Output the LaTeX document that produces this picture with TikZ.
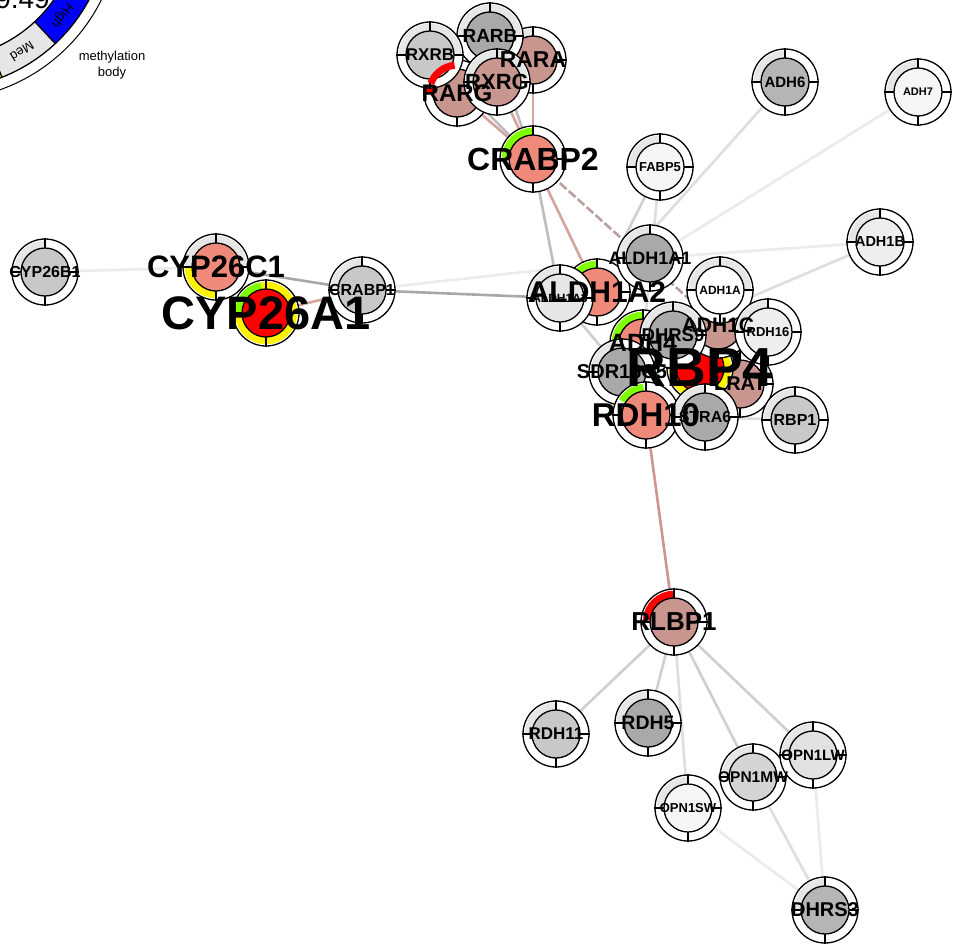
\documentclass[tikz,border=0pt]{standalone}
\usepackage{fontspec}
\setmainfont{Liberation Sans}
\usetikzlibrary{calc}
\definecolor{salm}{HTML}{EF8A7A}
\definecolor{rose}{HTML}{C8968F}
\definecolor{lg}{HTML}{E6E6E6}
\definecolor{grn}{HTML}{80FF00}
\definecolor{g1}{HTML}{A9A9A9}
\definecolor{g2}{HTML}{B5B5B5}
\definecolor{g3}{HTML}{C8C8C8}
\definecolor{g4}{HTML}{D4D4D4}
\definecolor{g5}{HTML}{E2E2E2}
\definecolor{g6}{HTML}{EEEEEE}
\definecolor{g7}{HTML}{F5F5F5}
\definecolor{epink}{HTML}{D6A39E}
\definecolor{epink2}{HTML}{CD9590}
\definecolor{ebrown}{HTML}{B9A19E}
\definecolor{eg1}{HTML}{A8A8A8}
\definecolor{eg2}{HTML}{BDBDBD}
\definecolor{eg3}{HTML}{CFCFCF}
\definecolor{eg4}{HTML}{DEDEDE}
\definecolor{eg5}{HTML}{EBEBEB}
\tikzset{
  edge/.style={line width=2.6pt},
  outl/.style={line width=1.3pt, draw=black},
}
\newcommand{\seg}[3]{\draw[#1, line width=7pt] ($(\cur)+(#2:27.8pt)$) arc[start angle=#2, end angle=#3, radius=27.8pt];}
\newcommand{\gnode}[3]{%
  \def\cur{#1}%
  \fill[white] (#1) circle (33pt);
  #3
  \draw[outl] (#1) circle (33pt);
  \draw[outl, fill=#2] (#1) circle (24pt);
  \foreach \a in {0,90,180,270}{\draw[outl] ($(#1)+(\a:24pt)$) -- ($(#1)+(\a:34pt)$);}
}
\newcommand{\lab}[3]{\node[font=\bfseries\fontsize{#2}{#2}\selectfont, inner sep=0pt] (#1-l) at (#1) {#3};}
\begin{document}
\begin{tikzpicture}[x=1pt,y=1pt]
\useasboundingbox (0,0) rectangle (956,-945);
\clip (0,0) rectangle (956,-945);
\fill[white] (0,0) rectangle (956,-945);

% ---------- legend fragment
\coordinate (leg) at (-60,80);
\draw[line width=1pt] (leg) circle (180pt);
\draw[blue, line width=30pt] ($(leg)+(-47:154pt)$) arc[start angle=-47, end angle=0, radius=154pt];
\draw[lg, line width=30pt] ($(leg)+(-68.5:154pt)$) arc[start angle=-68.5, end angle=-47, radius=154pt];
\draw[yellow, line width=30pt] ($(leg)+(-90:154pt)$) arc[start angle=-90, end angle=-68.5, radius=154pt];
\draw[outl] (leg) circle (139pt);
\draw[outl] (leg) circle (169pt);
\draw[outl] ($(leg)+(-47:139pt)$) -- ($(leg)+(-47:169pt)$);
\draw[outl] ($(leg)+(-68.5:139pt)$) -- ($(leg)+(-68.5:169pt)$);
\node[rotate=232, font=\fontsize{13}{13}\selectfont, inner sep=0pt] (legh) at ($(leg)+(-38:155pt)$) {High};
\node[rotate=212, font=\fontsize{13}{13}\selectfont, inner sep=0pt] (legm) at ($(leg)+(-58:155pt)$) {Med};
\node[anchor=base east, font=\fontsize{28}{28}\selectfont, inner sep=0pt] (legv) at (50,-8) {9.49};
\node[align=center, font=\fontsize{13}{15.5}\selectfont, inner sep=0pt] (legt) at (112,-65) {methylation\\body};

% ---------- coordinates
\coordinate (cyp26b1) at (45,-272);
\coordinate (cyp26c1) at (216,-267);
\coordinate (cyp26a1) at (266,-313);
\coordinate (crabp1) at (362,-290);
\coordinate (rxrb) at (430,-55);
\coordinate (rarb) at (490,-36);
\coordinate (rara) at (533,-60);
\coordinate (rxrg) at (497,-82);
\coordinate (rarg) at (457,-93);
\coordinate (crabp2) at (533,-159);
\coordinate (fabp5) at (660,-167);
\coordinate (adh6) at (785,-82);
\coordinate (adh7) at (918,-92);
\coordinate (adh1b) at (880,-242);
\coordinate (aldh1a1) at (650,-258);
\coordinate (aldh1a2) at (597,-292);
\coordinate (aldh1a3) at (560,-298);
\coordinate (adh1a) at (720,-290);
\coordinate (adh1c) at (718,-325);
\coordinate (rdh16) at (768,-332);
\coordinate (dhrs9) at (673,-335);
\coordinate (adh4) at (643,-343);
\coordinate (rbp4) at (700,-368);
\coordinate (lrat) at (740,-384);
\coordinate (sdr16c5) at (622,-372);
\coordinate (rdh10) at (646,-415);
\coordinate (stra6) at (705,-417);
\coordinate (rbp1) at (795,-420);
\coordinate (rlbp1) at (674,-622);
\coordinate (rdh11) at (556,-734);
\coordinate (rdh5) at (648,-723);
\coordinate (opn1sw) at (688,-808);
\coordinate (opn1mw) at (753,-777);
\coordinate (opn1lw) at (813,-755);
\coordinate (dhrs3) at (825,-910);

% ---------- edges
\draw[edge, eg5] (cyp26b1) -- (cyp26c1);
\draw[edge, eg1] (cyp26c1) -- (crabp1);
\draw[edge, epink] (cyp26a1) -- (crabp1);
\draw[edge, eg5] (crabp1) -- (aldh1a1);
\draw[edge, eg1] (crabp1) -- (aldh1a3);
\draw[edge, epink] (crabp2) -- (aldh1a2);
\draw[edge, eg2] (crabp2) -- (aldh1a3);
\draw[edge, ebrown, dash pattern=on 9pt off 3pt] (crabp2) -- (adh1c);
\draw[edge, epink] (rara) -- (crabp2);
\draw[edge, epink] (rxrg) -- (crabp2);
\draw[edge, epink] (rarg) -- (crabp2);
\draw[edge, eg2] (rxrb) -- (crabp2);
\draw[edge, eg2] (rarb) -- (crabp2);
\draw[edge, eg3] (fabp5) -- (aldh1a2);
\draw[edge, eg4] (fabp5) -- (adh4);
\draw[edge, eg4] (adh6) -- (aldh1a2);
\draw[edge, eg5] (adh7) -- (aldh1a2);
\draw[edge, eg5] (adh1b) -- (aldh1a1);
\draw[edge, eg4] (adh1b) -- (adh4);
\draw[edge, eg3] (aldh1a3) -- (sdr16c5);
\draw[edge, epink] (rbp4) -- (rbp1);
\draw[edge, eg4] (stra6) -- (rbp1);
\draw[edge, epink2] (rdh10) -- (rlbp1);
\draw[edge, eg3] (rlbp1) -- (rdh11);
\draw[edge, eg3] (rlbp1) -- (rdh5);
\draw[edge, eg4] (rlbp1) -- (opn1sw);
\draw[edge, eg3] (rlbp1) -- (opn1mw);
\draw[edge, eg3] (rlbp1) -- (opn1lw);
\draw[edge, eg5] (opn1sw) -- (dhrs3);
\draw[edge, eg4] (opn1mw) -- (dhrs3);
\draw[edge, eg5] (opn1lw) -- (dhrs3);

% ---------- nodes
\gnode{cyp26b1}{g3}{\seg{lg}{90}{180}}
\gnode{cyp26c1}{salm}{\seg{lg}{0}{180}\seg{yellow}{180}{270}}
\gnode{cyp26a1}{red}{\seg{yellow}{0}{100}\seg{grn}{100}{180}\seg{yellow}{180}{360}}
\gnode{crabp1}{g3}{\seg{lg}{90}{180}}
\gnode{rarg}{rose}{\seg{red}{90}{180}}
\gnode{rara}{rose}{\seg{lg}{90}{180}}
\gnode{rarb}{g1}{\seg{lg}{0}{180}}
\gnode{rxrb}{g3}{\seg{lg}{0}{180}}
\gnode{rxrg}{rose}{\seg{lg}{0}{180}}
\gnode{crabp2}{salm}{\seg{grn}{90}{178}}
\gnode{fabp5}{g7}{\seg{lg}{90}{180}}
\gnode{adh6}{g2}{\seg{lg}{90}{180}}
\gnode{adh7}{g7}{\seg{lg}{90}{180}}
\gnode{adh1b}{g6}{\seg{lg}{90}{180}}
\gnode{lrat}{rose}{\seg{lg}{90}{180}}
\gnode{rbp4}{red}{\seg{yellow}{0}{360}}
\gnode{aldh1a2}{salm}{\seg{grn}{90}{180}}
\gnode{aldh1a1}{g1}{\seg{lg}{90}{180}}
\gnode{aldh1a3}{lg}{\seg{lg}{90}{180}}
\gnode{adh1c}{rose}{\seg{lg}{90}{180}}
\gnode{adh1a}{white}{\seg{lg}{0}{180}}
\gnode{rdh16}{g6}{\seg{lg}{90}{180}}
\gnode{adh4}{salm}{\seg{grn}{90}{180}}
\gnode{dhrs9}{g1}{\seg{lg}{0}{180}}
\gnode{sdr16c5}{g1}{\seg{lg}{90}{180}}
\gnode{rdh10}{salm}{\seg{grn}{95}{150}}
\gnode{stra6}{g1}{\seg{lg}{90}{180}}
\gnode{rbp1}{g3}{\seg{lg}{90}{180}}
\gnode{rlbp1}{rose}{\seg{red}{90}{176}}
\gnode{rdh11}{g3}{\seg{lg}{90}{180}}
\gnode{rdh5}{g1}{\seg{lg}{90}{180}}
\gnode{opn1sw}{g7}{\seg{lg}{90}{180}}
\gnode{opn1mw}{g4}{\seg{lg}{90}{180}}
\gnode{opn1lw}{g5}{\seg{lg}{90}{180}}
\gnode{dhrs3}{g2}{\seg{lg}{90}{180}}
% RARG red arc shows above RXRB
\def\cur{rarg}
\seg{red}{95}{160}

% ---------- labels
\lab{cyp26b1}{16}{CYP26B1}
\lab{cyp26c1}{31}{CYP26C1}
\lab{cyp26a1}{47}{CYP26A1}
\lab{crabp1}{16}{CRABP1}
\lab{rarg}{24}{RARG}
\lab{rara}{23}{RARA}
\lab{rarb}{19}{RARB}
\lab{rxrb}{17}{RXRB}
\lab{rxrg}{22}{RXRG}
\lab{crabp2}{32}{CRABP2}
\lab{fabp5}{13}{FABP5}
\lab{adh6}{15}{ADH6}
\lab{adh7}{11}{ADH7}
\lab{adh1b}{14.5}{ADH1B}
\lab{lrat}{20}{LRAT}
\lab{aldh1a1}{18}{ALDH1A1}
\lab{aldh1a3}{12}{ALDH1A3}
\lab{aldh1a2}{30}{ALDH1A2}
\lab{adh1a}{12}{ADH1A}
\lab{adh1c}{21}{ADH1C}
\lab{rdh16}{13}{RDH16}
\lab{dhrs9}{18.5}{DHRS9}
\lab{adh4}{25}{ADH4}
\lab{sdr16c5}{20}{SDR16C5}
\lab{stra6}{16}{STRA6}
\lab{rdh10}{33}{RDH10}
\lab{rbp4}{55}{RBP4}
\lab{rbp1}{16}{RBP1}
\lab{rlbp1}{26}{RLBP1}
\lab{rdh11}{17}{RDH11}
\lab{rdh5}{19.5}{RDH5}
\lab{opn1sw}{13}{OPN1SW}
\lab{opn1mw}{15.5}{OPN1MW}
\lab{opn1lw}{15}{OPN1LW}
\lab{dhrs3}{20}{DHRS3}
\end{tikzpicture}
\end{document}
